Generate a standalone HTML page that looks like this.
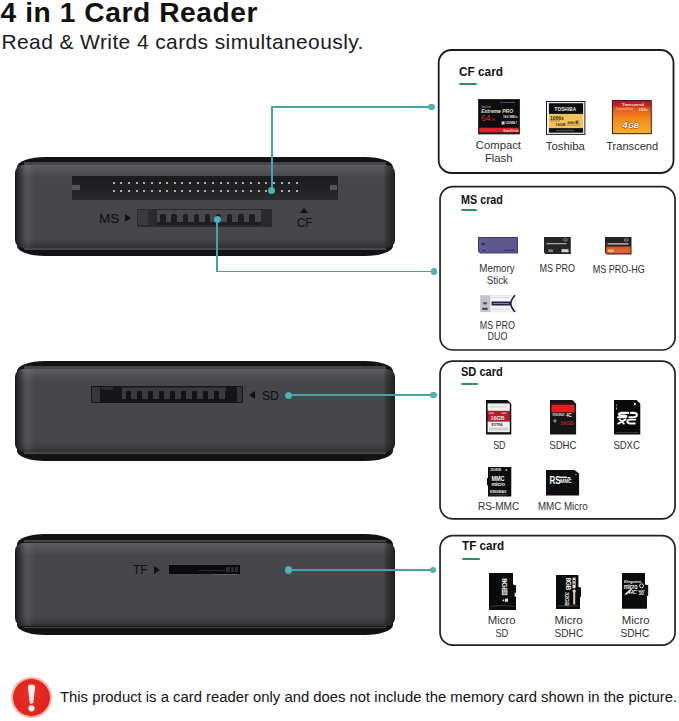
<!DOCTYPE html>
<html><head><meta charset="utf-8">
<style>
*{margin:0;padding:0;box-sizing:border-box}
html,body{width:679px;height:721px;background:#fff;overflow:hidden;position:relative;font-family:"Liberation Sans",sans-serif;color:#1a1a1a}
.a{position:absolute}
.t{position:absolute;white-space:nowrap;line-height:1}
.dl{-webkit-text-stroke:0.35px #111}
.box{position:absolute;border:2px solid #242424;border-radius:13.5px;background:#fff}
.ul{position:absolute;height:2.1px;background:#30925a;border-radius:1px}
.dev{position:absolute;left:14.5px;width:380px;height:98px}
.shell{position:absolute;left:2px;right:2px;top:0;bottom:0;background:#131314;border-radius:28px/10px}
.face{position:absolute;left:0;right:0;top:8.6px;bottom:8.4px;border-radius:8px;background:
 linear-gradient(to right, #121213 0, rgba(24,24,26,.8) 1.4px, rgba(24,24,26,.4) 5px, rgba(255,255,255,.02) 9.5px, rgba(255,255,255,.07) 12.5px, rgba(255,255,255,0) 20px),
 linear-gradient(to left, #121213 0, rgba(24,24,26,.75) 1.4px, rgba(24,24,26,.35) 8.5px, rgba(0,0,0,0) 11.5px),
 linear-gradient(to bottom, rgba(255,255,255,.13) 0, rgba(255,255,255,.06) 6px, rgba(255,255,255,0) 13px),
 linear-gradient(to top, rgba(0,0,0,.32) 0, rgba(0,0,0,.12) 5px, rgba(0,0,0,0) 10px),
 #47464a}
.band{position:absolute;left:9px;right:9px}
.teal{position:absolute;background:#47a2a7}
.dot{position:absolute;border-radius:50%;background:radial-gradient(circle,#56b8be 0,#4cadb3 55%,#3f9ba0 100%)}
.cfslot{background:linear-gradient(#1b1b1d,#222224 50%,#2c2c2e)}
.cfslot b{position:absolute;background:#56565a}
.cfslot i{position:absolute;width:1.6px;height:1.6px;background:#bdbdbd;border-radius:.5px}
.tri-r{width:0;height:0;border-top:4px solid transparent;border-bottom:4px solid transparent;border-left:6.5px solid #111}
.tri-l{width:0;height:0;border-top:4px solid transparent;border-bottom:4px solid transparent;border-right:6.5px solid #111}
.tri-u{width:0;height:0;border-left:4.6px solid transparent;border-right:4.6px solid transparent;border-bottom:5.4px solid #111}
.msslot{background:#2b2b2d}
svg{position:absolute;overflow:visible}
</style></head><body>
<div class="t" style="left:0.60px;top:-2.17px;font-size:28.2px;color:#111;font-weight:bold;letter-spacing:0.55px;">4 in 1 Card Reader</div>
<div class="t" style="left:1.50px;top:31.43px;font-size:21px;color:#1a1a1a;letter-spacing:0.39px;">Read &amp; Write 4 cards simultaneously.</div>
<div class="dev" style="top:156.8px;height:99.5px">
  <div class="shell"></div>
  <div class="band" style="top:5.7px;height:2.4px;background:#454548"></div>
  <div class="band" style="top:8.1px;height:0.8px;background:#222224"></div>
  <div class="face"></div>
  <div class="band" style="bottom:6.7px;height:1.5px;background:#48484b"></div>
</div>
<div class="dev" style="top:360.6px;height:100px">
  <div class="shell"></div>
  <div class="band" style="top:5.7px;height:2.4px;background:#454548"></div>
  <div class="band" style="top:8.1px;height:0.8px;background:#222224"></div>
  <div class="face"></div>
  <div class="band" style="bottom:6.7px;height:1.5px;background:#48484b"></div>
</div>
<div class="dev" style="top:534.2px;height:100.6px">
  <div class="shell"></div>
  <div class="band" style="top:5.7px;height:2.4px;background:#454548"></div>
  <div class="band" style="top:8.1px;height:0.8px;background:#222224"></div>
  <div class="face"></div>
  <div class="band" style="bottom:6.7px;height:1.5px;background:#48484b"></div>
</div>
<div class="a cfslot" style="left:71.5px;top:175.8px;width:266px;height:24px">
  <b style="left:0.5px;top:8.8px;width:8.2px;height:5.2px"></b>
  <b style="left:258.5px;top:8.8px;width:7px;height:5.2px"></b>
  <i style="left:41.50px;top:6.20px"></i><i style="left:48.50px;top:6.20px"></i><i style="left:56.50px;top:6.20px"></i><i style="left:64.50px;top:6.20px"></i><i style="left:71.50px;top:6.20px"></i><i style="left:79.50px;top:6.20px"></i><i style="left:87.50px;top:6.20px"></i><i style="left:94.50px;top:6.20px"></i><i style="left:102.50px;top:6.20px"></i><i style="left:109.50px;top:6.20px"></i><i style="left:117.50px;top:6.20px"></i><i style="left:125.50px;top:6.20px"></i><i style="left:132.50px;top:6.20px"></i><i style="left:140.50px;top:6.20px"></i><i style="left:148.50px;top:6.20px"></i><i style="left:155.50px;top:6.20px"></i><i style="left:163.50px;top:6.20px"></i><i style="left:170.50px;top:6.20px"></i><i style="left:178.50px;top:6.20px"></i><i style="left:186.50px;top:6.20px"></i><i style="left:193.50px;top:6.20px"></i><i style="left:201.50px;top:6.20px"></i><i style="left:209.50px;top:6.20px"></i><i style="left:216.50px;top:6.20px"></i><i style="left:224.50px;top:6.20px"></i><i style="left:41.50px;top:14.20px"></i><i style="left:48.50px;top:14.20px"></i><i style="left:56.50px;top:14.20px"></i><i style="left:64.50px;top:14.20px"></i><i style="left:71.50px;top:14.20px"></i><i style="left:79.50px;top:14.20px"></i><i style="left:87.50px;top:14.20px"></i><i style="left:94.50px;top:14.20px"></i><i style="left:102.50px;top:14.20px"></i><i style="left:109.50px;top:14.20px"></i><i style="left:117.50px;top:14.20px"></i><i style="left:125.50px;top:14.20px"></i><i style="left:132.50px;top:14.20px"></i><i style="left:140.50px;top:14.20px"></i><i style="left:148.50px;top:14.20px"></i><i style="left:155.50px;top:14.20px"></i><i style="left:163.50px;top:14.20px"></i><i style="left:170.50px;top:14.20px"></i><i style="left:178.50px;top:14.20px"></i><i style="left:186.50px;top:14.20px"></i><i style="left:193.50px;top:14.20px"></i><i style="left:201.50px;top:14.20px"></i><i style="left:209.50px;top:14.20px"></i><i style="left:216.50px;top:14.20px"></i><i style="left:224.50px;top:14.20px"></i>
</div>
<div class="t" style="left:99.40px;top:212.00px;font-size:13px;color:#141414;transform:scaleX(1.0410);transform-origin:0 0;-webkit-text-stroke:0.15px #111;">MS</div>
<div class="a tri-r" style="left:124.8px;top:214.4px"></div>
<div class="a msslot" style="left:137px;top:209.3px;width:135px;height:17.7px">
  <div class="a" style="left:19.5px;top:1px;width:104.5px;height:13px;background:#48484b"></div>
  <div class="a" style="left:0.8px;top:1px;width:10px;height:14.5px;background:#3a3a3c"></div>
  <div class="a" style="left:23.3px;top:4.8px;width:5.6px;height:11px;background:#1e1e20;border-radius:2px 2px 0 0"></div><div class="a" style="left:34.4px;top:4.8px;width:5.6px;height:11px;background:#1e1e20;border-radius:2px 2px 0 0"></div><div class="a" style="left:45.5px;top:4.8px;width:5.6px;height:11px;background:#1e1e20;border-radius:2px 2px 0 0"></div><div class="a" style="left:56.6px;top:4.8px;width:5.6px;height:11px;background:#1e1e20;border-radius:2px 2px 0 0"></div><div class="a" style="left:67.7px;top:4.8px;width:5.6px;height:11px;background:#1e1e20;border-radius:2px 2px 0 0"></div><div class="a" style="left:78.8px;top:4.8px;width:5.6px;height:11px;background:#1e1e20;border-radius:2px 2px 0 0"></div><div class="a" style="left:89.9px;top:4.8px;width:5.6px;height:11px;background:#1e1e20;border-radius:2px 2px 0 0"></div><div class="a" style="left:101.0px;top:4.8px;width:5.6px;height:11px;background:#1e1e20;border-radius:2px 2px 0 0"></div><div class="a" style="left:112.1px;top:4.8px;width:5.6px;height:11px;background:#1e1e20;border-radius:2px 2px 0 0"></div>
  <div class="a" style="left:19.5px;top:12.5px;width:104.5px;height:3.5px;background:#1e1e20"></div>
</div>
<div class="a tri-u" style="left:299.8px;top:207.8px"></div>
<div class="t" style="left:296.60px;top:215.97px;font-size:13.5px;color:#141414;transform:scaleX(0.8558);transform-origin:0 0;-webkit-text-stroke:0.15px #111;">CF</div>
<div class="a" style="left:91.2px;top:386.2px;width:151.5px;height:16.4px;background:#161618;border-radius:1px">
  <div class="a" style="left:0.6px;top:0.6px;width:8.6px;height:15.2px;background:#38383b"></div>
  <div class="a" style="left:9.8px;top:0.8px;width:12px;height:2.6px;background:#2c2c2f"></div>
  <div class="a" style="left:30.8px;top:0.6px;width:104.4px;height:12.6px;background:#3b3b3e"></div>
  <div class="a" style="left:30.8px;top:0.6px;width:104.4px;height:1.6px;background:#2a2a2d"></div>
  <div class="a" style="left:34.6px;top:5px;width:5.2px;height:9.2px;background:#131315"></div><div class="a" style="left:45.6px;top:5px;width:5.2px;height:9.2px;background:#131315"></div><div class="a" style="left:56.6px;top:5px;width:5.2px;height:9.2px;background:#131315"></div><div class="a" style="left:67.6px;top:5px;width:5.2px;height:9.2px;background:#131315"></div><div class="a" style="left:78.6px;top:5px;width:5.2px;height:9.2px;background:#131315"></div><div class="a" style="left:89.6px;top:5px;width:5.2px;height:9.2px;background:#131315"></div><div class="a" style="left:100.6px;top:5px;width:5.2px;height:9.2px;background:#131315"></div><div class="a" style="left:111.6px;top:5px;width:5.2px;height:9.2px;background:#131315"></div><div class="a" style="left:122.6px;top:5px;width:5.2px;height:9.2px;background:#131315"></div><div class="a" style="left:133.6px;top:5px;width:5.2px;height:9.2px;background:#131315"></div>
  <div class="a" style="left:146.2px;top:0.6px;width:4.8px;height:15.2px;background:#36363a"></div>
</div>
<div class="a tri-l" style="left:249px;top:391px"></div>
<div class="t" style="left:261.70px;top:388.70px;font-size:13px;color:#141414;transform:scaleX(0.9358);transform-origin:0 0;-webkit-text-stroke:0.15px #111;">SD</div>
<div class="a" style="left:169px;top:565.3px;width:70.5px;height:8.3px;background:#0b0b0c">
  <div class="a" style="left:57px;top:1.5px;width:12px;height:5px;background:#2c2c2e"></div>
  <div class="a" style="left:61px;top:1.5px;width:1.2px;height:5px;background:#0b0b0c"></div>
  <div class="a" style="left:65px;top:1.5px;width:1.2px;height:5px;background:#0b0b0c"></div>
  <div class="a" style="left:30px;top:4.5px;width:27px;height:1.2px;background:#2a2a2c"></div>
</div>
<div class="a" style="left:212px;top:573.8px;width:25px;height:0.8px;background:#5e5e61"></div>
<div class="a tri-r" style="left:154px;top:566px"></div>
<div class="t" style="left:132.80px;top:563.72px;font-size:12.5px;color:#141414;transform:scaleX(0.9431);transform-origin:0 0;-webkit-text-stroke:0.15px #111;">TF</div>
<div class="teal" style="left:271.00px;top:106.00px;width:1.6px;height:84.00px"></div>
<div class="teal" style="left:271.00px;top:106.00px;width:160.50px;height:1.6px"></div>
<div class="dot" style="left:268.10px;top:186.50px;width:7px;height:7px"></div>
<div class="dot" style="left:428.30px;top:103.60px;width:6.4px;height:6.4px"></div>
<div class="teal" style="left:216.00px;top:219.00px;width:1.6px;height:53.20px"></div>
<div class="teal" style="left:216.00px;top:270.60px;width:217.90px;height:1.6px"></div>
<div class="dot" style="left:213.90px;top:215.50px;width:7px;height:7px"></div>
<div class="dot" style="left:430.70px;top:268.20px;width:6.4px;height:6.4px"></div>
<div class="teal" style="left:288.00px;top:394.40px;width:145.50px;height:1.6px"></div>
<div class="dot" style="left:284.60px;top:391.70px;width:7.2px;height:7.2px"></div>
<div class="dot" style="left:430.30px;top:392.00px;width:6.4px;height:6.4px"></div>
<div class="teal" style="left:288.00px;top:569.20px;width:145.20px;height:1.6px"></div>
<div class="dot" style="left:284.70px;top:566.40px;width:7.2px;height:7.2px"></div>
<div class="dot" style="left:430.00px;top:566.80px;width:6.4px;height:6.4px"></div>
<svg style="left:0;top:0" width="679" height="721" viewBox="0 0 679 721"><rect x="438.7" y="50.0" width="234.80" height="123.00" rx="12.8" ry="12.8" fill="#fff" stroke="#1c1c1c" stroke-width="1.8"/><rect x="440.05" y="186.55" width="235.00" height="163.45" rx="12.8" ry="12.8" fill="#fff" stroke="#222" stroke-width="1.7"/><rect x="440.05" y="361.1" width="235.00" height="157.85" rx="12.8" ry="12.8" fill="#fff" stroke="#222" stroke-width="1.7"/><rect x="440.05" y="535.65" width="235.00" height="109.55" rx="12.8" ry="12.8" fill="#fff" stroke="#222" stroke-width="1.7"/></svg>
<div class="t" style="left:459.10px;top:65.57px;font-size:12.8px;color:#111;font-weight:bold;transform:scaleX(0.9233);transform-origin:0 0;">CF card</div>
<div class="ul" style="left:459.2px;top:83px;width:17.7px"></div>
<div class="t" style="left:460.80px;top:193.57px;font-size:12.2px;color:#111;font-weight:bold;transform:scaleX(0.8850);transform-origin:0 0;">MS crad</div>
<div class="ul" style="left:460.8px;top:208.7px;width:15.8px"></div>
<div class="t" style="left:460.80px;top:365.67px;font-size:12.2px;color:#111;font-weight:bold;transform:scaleX(0.9066);transform-origin:0 0;">SD card</div>
<div class="ul" style="left:460.8px;top:382.5px;width:16.8px"></div>
<div class="t" style="left:462.40px;top:540.12px;font-size:12.5px;color:#111;font-weight:bold;transform:scaleX(0.9348);transform-origin:0 0;">TF card</div>
<div class="ul" style="left:462.4px;top:557.7px;width:17.5px"></div>
<div class="t" style="left:475.89px;top:140.32px;font-size:11.2px;color:#303030;transform:scaleX(1.0064);transform-origin:50% 0;">Compact</div>
<div class="t" style="left:484.61px;top:153.32px;font-size:11.2px;color:#303030;transform:scaleX(1.0064);transform-origin:50% 0;">Flash</div>
<div class="t" style="left:545.90px;top:140.52px;font-size:11.2px;color:#303030;transform:scaleX(1.0077);transform-origin:50% 0;">Toshiba</div>
<div class="t" style="left:605.75px;top:140.52px;font-size:11.2px;color:#303030;transform:scaleX(0.9905);transform-origin:50% 0;">Transcend</div>
<div class="t" style="left:478.44px;top:263.21px;font-size:10.5px;color:#303030;transform:scaleX(0.9284);transform-origin:50% 0;">Memory</div>
<div class="t" style="left:486.02px;top:274.71px;font-size:10.5px;color:#303030;transform:scaleX(0.9284);transform-origin:50% 0;">Stick</div>
<div class="t" style="left:536.98px;top:263.88px;font-size:10.3px;color:#303030;transform:scaleX(0.8712);transform-origin:50% 0;">MS PRO</div>
<div class="t" style="left:588.54px;top:264.68px;font-size:10.3px;color:#303030;transform:scaleX(0.8755);transform-origin:50% 0;">MS PRO-HG</div>
<div class="t" style="left:477.08px;top:320.88px;font-size:10.3px;color:#303030;transform:scaleX(0.8663);transform-origin:50% 0;">MS PRO</div>
<div class="t" style="left:486.16px;top:331.88px;font-size:10.3px;color:#303030;transform:scaleX(0.8663);transform-origin:50% 0;">DUO</div>
<div class="t" style="left:491.61px;top:439.81px;font-size:10.5px;color:#303030;transform:scaleX(0.8432);transform-origin:50% 0;">SD</div>
<div class="t" style="left:548.32px;top:439.51px;font-size:10.5px;color:#303030;transform:scaleX(0.9209);transform-origin:50% 0;">SDHC</div>
<div class="t" style="left:612.31px;top:439.51px;font-size:10.5px;color:#303030;transform:scaleX(0.9049);transform-origin:50% 0;">SDXC</div>
<div class="t" style="left:477.22px;top:501.41px;font-size:10.5px;color:#303030;transform:scaleX(0.9569);transform-origin:50% 0;">RS-MMC</div>
<div class="t" style="left:536.07px;top:501.41px;font-size:10.5px;color:#303030;transform:scaleX(0.9281);transform-origin:50% 0;">MMC Micro</div>
<div class="t" style="left:488.31px;top:614.72px;font-size:11.2px;color:#303030;transform:scaleX(1.0192);transform-origin:50% 0;">Micro</div>
<div class="t" style="left:494.22px;top:628.12px;font-size:11.2px;color:#303030;transform:scaleX(0.8227);transform-origin:50% 0;">SD</div>
<div class="t" style="left:555.31px;top:615.22px;font-size:11.2px;color:#303030;transform:scaleX(1.0301);transform-origin:50% 0;">Micro</div>
<div class="t" style="left:553.43px;top:627.52px;font-size:11.2px;color:#303030;transform:scaleX(0.9043);transform-origin:50% 0;">SDHC</div>
<div class="t" style="left:621.51px;top:615.22px;font-size:11.2px;color:#303030;transform:scaleX(1.0119);transform-origin:50% 0;">Micro</div>
<div class="t" style="left:619.33px;top:627.52px;font-size:11.2px;color:#303030;transform:scaleX(0.9043);transform-origin:50% 0;">SDHC</div>
<!-- SanDisk CF -->
<svg style="left:478px;top:98.7px" width="42" height="35.4" viewBox="0 0 42 35.4" font-family="Liberation Sans">
 <rect x="0" y="0" width="42" height="35.4" fill="#2d2d2d"/>
 <rect x="1" y="1" width="40" height="33.4" fill="#0d0d0d"/>
 <rect x="1.3" y="28.7" width="39.4" height="4.8" fill="#d8232a"/>
 <text x="25" y="32.6" font-size="4" font-weight="bold" fill="#f6d0d0">SanDisk</text>
 <text x="3.2" y="9.2" font-size="2.6" fill="#bbb">SanDisk</text>
 <text x="3.2" y="14" font-size="5" font-weight="bold" font-style="italic" fill="#e8e2cc">Extreme PRO</text>
 <text x="3" y="22.2" font-size="8.6" fill="#c83a3a">64</text>
 <text x="12.6" y="22" font-size="3" fill="#a33">GB</text>
 <text x="25" y="18.8" font-size="3.4" font-weight="bold" fill="#ddd">160 MB/s</text>
 <rect x="23.6" y="22.4" width="3" height="3.2" fill="#ccc"/>
 <text x="27.6" y="25.3" font-size="3.2" font-weight="bold" fill="#ddd">UDMA7</text>
 <rect x="22" y="3" width="15" height=".8" fill="#666"/>
</svg>
<!-- Toshiba CF -->
<svg style="left:545.9px;top:100.5px" width="39.4" height="33.9" viewBox="0 0 39.4 33.9" font-family="Liberation Sans">
 <rect x="0" y="0" width="39.4" height="33.9" fill="#1a1a1a"/>
 <rect x="1" y="1" width="37.4" height="31.9" fill="#f4f4f4"/>
 <rect x="2.9" y="2.2" width="34.2" height="10.8" fill="#0e0e0e"/>
 <text x="8.6" y="9.6" font-size="4.6" font-weight="bold" fill="#f2f2f2" letter-spacing=".15">TOSHIBA</text>
 <rect x="2.9" y="12.9" width="34.2" height="14.2" fill="#efc25c"/>
 <text x="4" y="18.6" font-size="5" font-weight="bold" fill="#3a2a08">1066x</text>
 <rect x="4" y="19.6" width="10" height=".7" fill="#6a5020" opacity=".7"/>
 <text x="9.6" y="24.8" font-size="3.8" font-weight="bold" fill="#3a2a08">16GB</text>
 <rect x="21.5" y="20.5" width="7" height="2.3" fill="#5a4010" opacity=".7"/>
 <rect x="29.5" y="19.6" width="3" height="3.2" fill="#4a3008" opacity=".8"/>
 <rect x="21" y="23.8" width="13" height=".6" fill="#5a4010" opacity=".6"/>
 <rect x="2.9" y="27.1" width="34.2" height="4.6" fill="#111"/>
 <rect x="10" y="28.9" width="18" height="1.2" fill="#777" opacity=".6"/>
</svg>
<!-- Transcend CF -->
<svg style="left:611.9px;top:100.2px" width="39.8" height="34.2" viewBox="0 0 39.8 34.2" font-family="Liberation Sans">
 <defs><linearGradient id="tg" x1="0" y1="0" x2="0" y2="1">
  <stop offset="0" stop-color="#a8182e"/><stop offset=".14" stop-color="#c4242a"/>
  <stop offset=".24" stop-color="#e4581c"/><stop offset=".55" stop-color="#f28a1c"/><stop offset="1" stop-color="#f6b02a"/></linearGradient></defs>
 <rect x="0" y="0" width="39.8" height="34.2" fill="#4a1a12"/>
 <rect x="1" y="1" width="37.8" height="32.2" fill="url(#tg)"/>
 <text x="10" y="6" font-size="4.4" font-weight="bold" fill="#f8e0d8">Transcend</text>
 <text x="3.5" y="10.2" font-size="2.8" fill="#ffe0b0" opacity=".85">CompactFlash</text>
 <text x="26.5" y="10.6" font-size="4" font-weight="bold" fill="#fff4e0">133x</text>
 <text x="10.3" y="28.5" font-size="9.6" font-weight="bold" font-style="italic" fill="#fff" stroke="#8a3a08" stroke-width=".9" paint-order="stroke">4</text>
 <text x="16.2" y="28.5" font-size="7.2" font-weight="bold" font-style="italic" fill="#fff" stroke="#8a3a08" stroke-width=".8" paint-order="stroke">GB</text>
</svg>
<!-- Memory Stick -->
<svg style="left:478px;top:237px" width="40" height="16.6" viewBox="0 0 40 16.6">
 <path d="M0 0H40V16.6H2.2L0 14.4Z" fill="#3e3a66"/>
 <path d="M0.9 0.9H39.1V15.7H2.6L0.9 14Z" fill="#5c578c"/>
 <rect x="1.3" y="1.3" width="7.5" height="13" fill="#666196" opacity=".5"/>
 <ellipse cx="5.2" cy="7" rx="1.8" ry="1.3" fill="#2e2a55"/>
 <rect x="4" y="13.2" width="4" height=".9" fill="#2e2a55"/>
 <rect x="26" y="12.8" width="11" height=".9" fill="#2e2a55"/>
</svg>
<!-- MS PRO -->
<svg style="left:543.9px;top:236.6px" width="26.8" height="17" viewBox="0 0 26.8 17">
 <path d="M0 0H26.8V17H1.6L0 15.4Z" fill="#262626"/>
 <rect x="2.5" y="6" width="20" height="1.3" fill="#d0d0d0" opacity=".75"/>
 <ellipse cx="21.5" cy="2.8" rx="2" ry="1.2" fill="none" stroke="#bbb" stroke-width=".6"/>
 <rect x="17.5" y="12.2" width="7" height="3" fill="#d8d8d8"/>
 <rect x="4" y="12.4" width="5" height="2.6" fill="#aaa" opacity=".7"/>
</svg>
<!-- MS PRO-HG -->
<svg style="left:605px;top:236.6px" width="26.5" height="17.4" viewBox="0 0 26.5 17.4">
 <path d="M0 0H26.5V17.4H1.6L0 15.8Z" fill="#2a2222"/>
 <rect x="1.2" y="9.5" width="24.2" height="6.8" fill="#d4582a"/>
 <rect x="1.2" y="11.5" width="24.2" height="4.8" fill="#e06a30" opacity=".7"/>
 <rect x="2.5" y="6.2" width="21" height="1.4" fill="#e0e0e0" opacity=".8"/>
 <ellipse cx="21.2" cy="3" rx="2" ry="1.2" fill="none" stroke="#ccc" stroke-width=".6"/>
 <rect x="3" y="12.5" width="6" height="2.5" fill="#f8c090" opacity=".8"/>
</svg>
<!-- MS PRO DUO -->
<svg style="left:480.3px;top:295.2px" width="35.5" height="17.2" viewBox="0 0 35.5 17.2">
 <rect x="0" y="0" width="35.5" height="17.2" fill="#d8d8de"/>
 <rect x="0.5" y="0.5" width="10" height="16.2" fill="#c2c2ca"/>
 <rect x="10.5" y="0.5" width="24.5" height="16.2" fill="#f4f4f8"/>
 <path d="M11.6 6.6H30.5Q31.6 8.6 30.5 10.4H11.6Z" fill="#22204a"/>
 <rect x="13" y="8.1" width="16" height=".8" fill="#9a9ab8"/>
 <path d="M35 0.2Q31 4.6 30.8 8.6Q31 12.6 35 17" fill="none" stroke="#1a1a2a" stroke-width="1.5"/>
 <ellipse cx="5" cy="8.2" rx="2.2" ry="1.3" fill="#555"/>
 <rect x="2.2" y="12.8" width="5.4" height="2.2" fill="#333" opacity=".85"/>
 <rect x="11.5" y="2.4" width="18" height=".7" fill="#d0d0d8"/>
 <rect x="11.5" y="13.8" width="18" height=".7" fill="#d0d0d8"/>
</svg>
<!-- SD -->
<svg style="left:486.1px;top:400.1px" width="25.3" height="34.6" viewBox="0 0 25.3 34.6" font-family="Liberation Sans">
 <path d="M0 0H21.5L25.3 3.7V34.6H0Z" fill="#111"/>
 <rect x="1.6" y="3.4" width="22.2" height="7.5" fill="#f2f2f2"/>
 <rect x="3" y="5.8" width="18" height="1.8" fill="#dcdcdc"/>
 <rect x="1.6" y="10.9" width="22.2" height="10.7" fill="#b41d2d"/>
 <rect x="3" y="12.5" width="5" height="1.3" fill="#f0c0c0" opacity=".8"/>
 <rect x="15.5" y="12.5" width="5" height="1.3" fill="#f0c0c0" opacity=".8"/>
 <text x="4.6" y="19.6" font-size="5.6" font-weight="bold" fill="#f8e8e8" letter-spacing="-.2">16GB</text>
 <rect x="1.6" y="21.6" width="22.2" height="10.6" fill="#f0f0f0"/>
 <text x="5.6" y="25.6" font-size="3.3" font-weight="bold" fill="#333">EXTRA</text>
 <rect x="3" y="27.5" width="19" height="3" fill="#cfcfd2"/>
</svg>
<!-- SDHC -->
<svg style="left:550.1px;top:400.1px" width="26.1" height="34.5" viewBox="0 0 26.1 34.5" font-family="Liberation Sans">
 <path d="M0 0H22.4L26.1 3.7V34.5H0Z" fill="#151515"/>
 <rect x="1.4" y="4.7" width="23.2" height="7.7" fill="#e31d22"/>
 <rect x="1.4" y="3.4" width="23" height="1.3" fill="#5a1010"/>
 <text x="2.4" y="16.2" font-size="2.6" font-weight="bold" fill="#ddd">KINGMAX</text>
 <text x="16" y="17" font-size="4.6" font-weight="bold" fill="#eee">4C</text>
 <circle cx="5" cy="20.8" r="1.6" fill="#aaa" opacity=".8"/>
 <text x="10" y="25" font-size="5.4" font-weight="bold" fill="#b3222a" letter-spacing="-.1">16GB</text>
</svg>
<!-- SDXC -->
<svg style="left:614px;top:400.1px" width="26.3" height="34.5" viewBox="0 0 26.3 34.5">
 <path d="M0 0H22.5L26.3 3.7V34.5H0Z" fill="#0a0a0a"/>
 <g fill="none" stroke="#fafafa" stroke-width="2.1" stroke-linecap="round">
  <path d="M14.2 12.9H8Q4.9 12.9 4.9 14.5Q5 15.5 8 15.5H10.2Q12.6 15.5 12.3 16.7Q12 17.3 9.3 17.3H4"/>
  <path d="M15.4 17.3H18.6Q22.8 17.3 22.9 15Q22.8 12.9 19.6 12.9H16.9"/>
  <path d="M4.2 23.6L11.6 19.4M5.6 19.4L9.8 23.6" stroke-width="1.9"/>
  <path d="M21.4 19.6H16.6Q13.4 19.6 13.3 21.5Q13.3 23.5 16.6 23.5H20.8" stroke-width="1.9"/>
 </g>
 <rect x="20" y="2.8" width="1.8" height="2.6" rx=".8" fill="#e8e8e8"/>
 <rect x="2" y="4.2" width=".9" height="2" fill="#aaa" opacity=".7"/>
 <rect x="2" y="7.5" width=".9" height="2" fill="#ddd" opacity=".8"/>
 <rect x="1.5" y="32.2" width="23" height=".6" fill="#555"/>
</svg>
<!-- RS-MMC (MMC micro) -->
<svg style="left:486.8px;top:466.5px" width="24.3" height="29.5" viewBox="0 0 24.3 29.5" font-family="Liberation Sans">
 <path d="M1 0H24.3V29.5H1V18.3H0V11H1Z" fill="#0e0e0e"/>
 <text x="3.2" y="4.4" font-size="3.4" font-weight="bold" fill="#ddd">256MB</text>
 <rect x="18.5" y="2" width="1.5" height="2" fill="#ccc" opacity=".75"/>
 <text x="4.6" y="14.2" font-size="6.4" font-weight="bold" fill="#f4f4f4" transform="scale(.86 1)" transform-origin="4.6 14.2" letter-spacing="-.2">MMC</text>
 <text x="4.4" y="18.6" font-size="5.4" font-weight="bold" fill="#eee" letter-spacing="-.25">micro</text>
 <text x="3" y="26.4" font-size="3.6" font-weight="bold" fill="#eee" letter-spacing="-.1">KINGMAX</text>
 <rect x="3" y="27.6" width="17" height=".6" fill="#666"/>
</svg>
<!-- MMC Micro (RS MMC) -->
<svg style="left:546.1px;top:470.4px" width="33.1" height="25.6" viewBox="0 0 33.1 25.6">
 <path d="M0 0H28.5L33.1 3.6V25.6H0Z" fill="#0e0e0e"/>
 <text x="3.4" y="13.6" font-size="10" font-weight="bold" fill="#f4f4f4" font-family="Liberation Sans" transform="scale(.82 1)" transform-origin="3.4 13.6">RS</text>
 <rect x="14" y="6.6" width="7" height="1.5" fill="#eee"/>
 <text x="14" y="13.3" font-size="5" font-weight="bold" fill="#f4f4f4" font-family="Liberation Sans">MMC</text>
 <rect x="21.5" y="7" width="3" height="1.6" fill="#eee"/>
 <circle cx="30" cy="4.5" r=".7" fill="#bbb"/>
</svg>

<!-- microSD -->
<svg style="left:488.9px;top:572.6px" width="27" height="37" viewBox="0 0 27 37" font-family="Liberation Sans">
 <path d="M0.5 0H23.5Q24 0 24 .6V11.6L27 12.3V19.5L25.6 20.3V23.2L27 24V36.4Q27 37 26.4 37H0.6Q0 37 0 36.4V.6Q0 0 .5 0Z" fill="#0b0b0b"/>
 <text transform="translate(12.6 5.2) rotate(90)" font-size="7.6" font-weight="bold" fill="#f0f0f0" letter-spacing="-.3">8GB</text>
 <rect x="12.8" y="17.6" width="5.6" height="4.6" fill="#d8d8d8"/>
 <rect x="13.8" y="18.4" width="3.6" height="3" fill="#8a8a8a"/>
 <rect x="13.6" y="26.6" width="1.6" height="1.6" fill="#e6e6e6"/>
 <rect x="16" y="25.6" width="3" height="3.2" fill="#e6e6e6"/>
 <path d="M1.5 33.5Q13 31.2 25.5 33.5" fill="none" stroke="#555" stroke-width=".6"/>
</svg>
<!-- microSDHC 1 -->
<svg style="left:556.1px;top:575px" width="25" height="34" viewBox="0 0 25 34" font-family="Liberation Sans">
 <path d="M0.5 0H21.9Q22.4 0 22.4 .5V11.9L25 12.6V21.5L24 22.2V34H0.5Q0 34 0 33.5V.5Q0 0 .5 0Z" fill="#0b0b0b"/>
 <text transform="translate(9.6 2.4) rotate(90)" font-size="6.6" font-weight="bold" fill="#efefef" letter-spacing="-.3">8GB</text>
 <rect x="16.6" y="2.6" width="3" height="10.6" fill="#e0e0e0"/>
 <rect x="17.4" y="5" width="1.4" height="1.4" fill="#0b0b0b"/>
 <rect x="17.4" y="8.4" width="1.4" height="1.4" fill="#0b0b0b"/>
 <text transform="translate(8.8 17) rotate(90)" font-size="5.6" font-weight="bold" fill="#e8e8e8" letter-spacing="-.2">32GB</text>
 <circle cx="18.2" cy="16" r="1.6" fill="#dcdcdc"/>
 <rect x="17.2" y="17" width="2" height="12.4" fill="#d0d0d0"/>
 <rect x="2" y="30.6" width="20" height=".6" fill="#666"/>
</svg>
<!-- microSDHC 2 -->
<svg style="left:622.4px;top:573.2px" width="26.4" height="35.8" viewBox="0 0 26.4 35.8" font-family="Liberation Sans">
 <path d="M0.6 0H22.4Q23 0 23 .6V11.6L26.2 12.2V22.4L25 23.2V35.2Q25 35.8 24.4 35.8H.6Q0 35.8 0 35.2V.6Q0 0 .6 0Z" fill="#0b0b0b"/>
 <text x="2" y="10.4" font-size="4.4" font-weight="bold" font-style="italic" fill="#f2f2f2" transform="scale(.9 1)" transform-origin="2 10.4">Kingston</text>
 <text x="1.8" y="15.8" font-size="6.4" font-weight="bold" fill="#eeeeee" letter-spacing="-.35" transform="scale(.86 1)" transform-origin="1.8 15.8">micro</text>
 <path d="M2.2 21.6L8 16.2H10.4L4.6 21.6Z" fill="#f0f0f0"/>
 <text x="6.6" y="21.4" font-size="6" font-weight="bold" font-style="italic" fill="#eeeeee" letter-spacing="-.3">HC</text>
 <circle cx="19.6" cy="12.8" r="2" fill="none" stroke="#e0e0e0" stroke-width="1"/>
 <text x="16.4" y="22.4" font-size="5.2" font-weight="bold" fill="#e8e8e8" letter-spacing="-.2">10</text>
 <rect x="16.2" y="17.4" width="6.6" height=".8" fill="#ddd"/>
</svg>
<div class="a" style="left:10.6px;top:676.8px;width:41.5px;height:41.5px;border-radius:50%;background:#f6b3aa"></div>
<div class="a" style="left:12.6px;top:678.8px;width:37.5px;height:37.5px;border-radius:50%;background:radial-gradient(circle at 45% 40%,#ee2d24,#d4201b)"></div>
<svg style="left:0;top:0" width="60" height="721" viewBox="0 0 60 721">
 <path d="M27.9 687.4Q27.9 684.6 31.5 684.6Q35.1 684.6 35.1 687.4L33.3 702.8Q31.5 704.6 29.7 702.8Z" fill="#f4f0f0"/>
 <circle cx="31.5" cy="708.3" r="3.1" fill="#f4f0f0"/>
</svg>
<div class="t" style="left:60.00px;top:690.13px;font-size:14.85px;color:#111;">This product is a card reader only and does not include the memory card shown in the picture.</div>
</body></html>
